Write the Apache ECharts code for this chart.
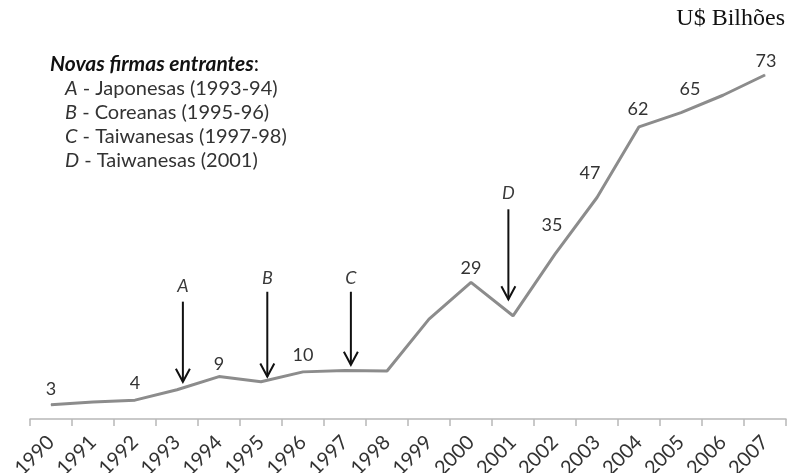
<!DOCTYPE html>
<html>
<head>
<meta charset="utf-8">
<script src="https://cdn.jsdelivr.net/npm/echarts@6/dist/echarts.min.js"></script>
<style>
  html, body { margin: 0; padding: 0; background: #fff; }
  #chart { width: 787px; height: 473px; }
</style>
</head>
<body>
<div id="chart"></div>
<script>
// Years on the horizontal axis
const years = ['1990','1991','1992','1993','1994','1995','1996','1997','1998',
               '1999','2000','2001','2002','2003','2004','2005','2006','2007'];

// Market value, US$ billions
const values = [3, 3.6, 4, 6.2, 9, 7.9, 10, 10.3, 10.2,
                21.2, 29, 21.9, 35, 47, 62, 65, 68.7, 73];

// Years whose value is printed above the line
const labelledYears = ['1990','1992','1994','1996','2000','2002','2003','2004','2005','2007'];

// Entry events: letter, position on the year scale, arrow top and tip (in US$ billions)
const eventLetters = ['A', 'B', 'C', 'D'];
const eventPos     = [3.14, 5.15, 7.14, 10.89];
const eventTop     = [24.9, 27.0, 27.0, 44.5];
const eventTip     = [7.9, 9.0, 11.5, 25.4];
const eventLetterY = [28.1, 29.9, 29.9, 48.0];

// Legend block text
const legendTitle = 'Novas firmas entrantes';
const legendItems = [
  ['A', ' - Japonesas (1993-94)'],
  ['B', ' - Coreanas (1995-96)'],
  ['C', ' - Taiwanesas (1997-98)'],
  ['D', ' - Taiwanesas (2001)']
];
const unitText = 'U$ Bilhões';

// Label nudges (pixels) so the numbers sit where they read best
const labelNudge = {
  '1990': [0, -1], '1992': [0, -2], '1994': [0, 2], '1996': [0, -2],
  '2000': [0, 0], '2002': [-3, -14], '2003': [-7, -10], '2004': [-1, -3],
  '2005': [9, -9], '2007': [1, 1]
};

const FONT = 'Lato, "Open Sans", sans-serif';
const TEXT = '#333';

const lineData = values.map((v, i) => {
  const y = years[i];
  if (labelledYears.includes(y)) {
    return {
      value: v,
      label: {
        show: true,
        position: 'top',
        distance: 5,
        offset: labelNudge[y] || [0, 0],
        formatter: () => String(v)
      }
    };
  }
  return v;
});

const eventData = eventLetters.map((l, i) => [eventPos[i], eventTop[i], eventTip[i], eventLetterY[i]]);

const chart = echarts.init(document.getElementById('chart'), null, { renderer: 'canvas' });

const legendGraphics = [
  {
    type: 'text',
    x: 50, y: 64,
    style: {
      text: '{b|' + legendTitle + '}{n|:}',
      verticalAlign: 'middle',
      rich: {
        b: { font: 'italic bold 21px ' + FONT, fill: '#111' },
        n: { font: '21px ' + FONT, fill: '#111' }
      }
    }
  }
].concat(legendItems.map((it, i) => ({
  type: 'text',
  x: 65, y: 89 + i * 23.7,
  style: {
    text: '{i|' + it[0] + '}{n|' + it[1] + '}',
    verticalAlign: 'middle',
    rich: {
      i: { font: 'italic 20px ' + FONT, fill: TEXT },
      n: { font: '20px ' + FONT, fill: TEXT }
    }
  }
})));

chart.setOption({
  animation: false,
  backgroundColor: '#fff',
  grid: { left: 30, right: 1, top: 42, bottom: 54, containLabel: false, outerBoundsMode: 'none' },
  xAxis: [
    {
      type: 'category',
      data: years,
      boundaryGap: true,
      axisLine: { show: true, lineStyle: { color: '#b8b8b8', width: 1.5 } },
      axisTick: { show: true, length: 7, lineStyle: { color: '#b8b8b8', width: 1.5 } },
      axisLabel: {
        rotate: 45, margin: 20, interval: 0,
        fontFamily: FONT, fontSize: 20, color: TEXT
      },
      splitLine: { show: false }
    },
    {
      type: 'value',
      min: -0.5, max: 17.5,
      show: false
    }
  ],
  yAxis: {
    type: 'value',
    min: 0, max: 80,
    show: false,
    splitLine: { show: false }
  },
  series: [
    {
      type: 'line',
      data: lineData,
      xAxisIndex: 0,
      symbol: 'circle',
      symbolSize: 1,
      showSymbol: true,
      itemStyle: { color: '#8c8c8c' },
      lineStyle: { color: '#8c8c8c', width: 3 },
      label: { fontFamily: FONT, fontSize: 18, color: TEXT },
      z: 2
    },
    {
      type: 'custom',
      xAxisIndex: 1,
      yAxisIndex: 0,
      data: eventData,
      z: 3,
      renderItem: function (params, api) {
        const x = api.value(0);
        const top = api.coord([x, api.value(1)]);
        const tip = api.coord([x, api.value(2)]);
        const lab = api.coord([x, api.value(3)]);
        const stroke = { stroke: '#111', lineWidth: 2, fill: null };
        return {
          type: 'group',
          children: [
            { type: 'line', shape: { x1: top[0], y1: top[1], x2: tip[0], y2: tip[1] }, style: stroke },
            { type: 'polyline', shape: { points: [[tip[0] - 7, tip[1] - 13], [tip[0], tip[1]], [tip[0] + 7, tip[1] - 13]] }, style: stroke },
            {
              type: 'text', x: lab[0], y: lab[1],
              style: {
                text: eventLetters[params.dataIndex],
                font: 'italic 18px ' + FONT, fill: '#3a3a3a',
                align: 'center', verticalAlign: 'middle'
              }
            }
          ]
        };
      }
    }
  ],
  graphic: legendGraphics.concat([
    {
      type: 'text',
      right: 2, top: 7,
      style: { text: unitText, font: '24px "Liberation Serif", "Times New Roman", serif', fill: '#111' }
    }
  ])
});
</script>
</body>
</html>
